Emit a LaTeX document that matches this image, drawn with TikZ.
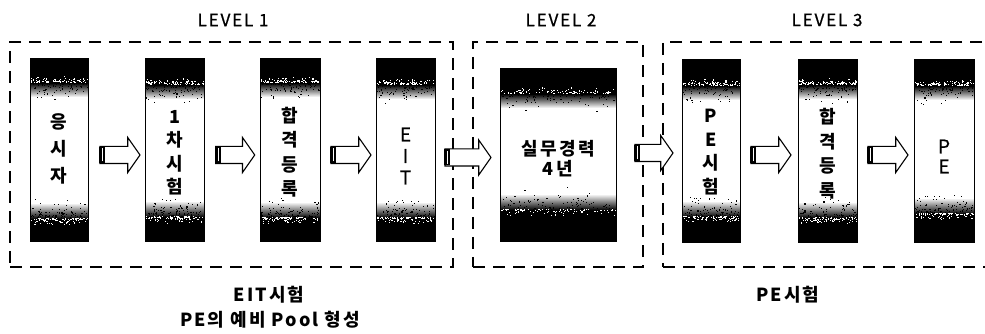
\documentclass[tikz,border=0pt]{standalone}
\usepackage{fontspec}
\setmainfont{Noto Sans CJK KR}
\newfontfamily\lvlfont{Noto Sans CJK KR}[LetterSpace=11,FakeBold=0.8]
\newfontfamily\ltrfont{Noto Sans CJK KR}[FakeBold=0.8]
\newfontfamily\spfont{Noto Sans CJK KR}[LetterSpace=14]
\newfontfamily\bfont{Noto Sans CJK KR}[LetterSpace=11]
\usetikzlibrary{shapes.arrows,calc}
\newcommand\barfont[1]{\fontsize{18}{#1}\selectfont\bfseries}
\newcommand\shadedbar[9]{%
 \pgfmathsetmacro\bxl{#2-#4/2}%
 \pgfmathsetmacro\bxr{#2+#4/2}%
 \pgfmathsetmacro\byt{#3+#5/2}%
 \pgfmathsetmacro\byb{#3-#5/2}%
 \fill[black] (\bxl,\byt) rectangle (\bxr,\byt-#6);
 \shade[top color=black,bottom color=white] (\bxl,\byt-#6) rectangle (\bxr,\byt-#6-14);
 \fill[black] (\bxl,\byb) rectangle (\bxr,\byb+#7);
 \shade[top color=white,bottom color=black] (\bxl,\byb+#7) rectangle (\bxr,\byb+#7+16);
 \foreach \k in {1,...,90}{%
   \pgfmathsetmacro\dxa{\bxl+rnd*(#4-1.2)}%
   \pgfmathsetmacro\dya{\byt-#6-20*rnd*rnd}%
   \fill[black] (\dxa,\dya) rectangle ++(1.1,1.1);
   \pgfmathsetmacro\dxb{\bxl+rnd*(#4-1.2)}%
   \pgfmathsetmacro\dyb{\byt-#6+6*rnd*rnd}%
   \fill[white] (\dxb,\dyb) rectangle ++(1.1,1.1);
   \pgfmathsetmacro\dxc{\bxl+rnd*(#4-1.2)}%
   \pgfmathsetmacro\dyc{\byb+#7+22*rnd*rnd}%
   \fill[black] (\dxc,\dyc) rectangle ++(1.1,1.1);
   \pgfmathsetmacro\dxd{\bxl+rnd*(#4-1.2)}%
   \pgfmathsetmacro\dyd{\byb+#7-7*rnd*rnd}%
   \fill[white] (\dxd,\dyd) rectangle ++(1.1,1.1);
 }
 \node[bar, minimum width=#4pt, minimum height=#5pt] (#1) at (#2,#3) {};
 \node[bartext, #8] (#1t) at (#2,#3) {#9};
}
\tikzset{
 bar/.style={draw, line width=0.8pt, inner sep=0pt},
 bartext/.style={align=center, inner sep=0pt, font=\barfont{25}},
 levelbox/.style={draw, line width=2.8pt, dash pattern=on 12pt off 8pt, inner sep=0pt},
 blockarrow/.style={single arrow, draw, line width=1.1pt, fill=white, inner xsep=0pt, inner ysep=8pt, single arrow head extend=9pt, single arrow tip angle=110, minimum height=#1},
 toplabel/.style={font=\lvlfont\fontsize{17}{20}\selectfont},
 botlabel/.style={font=\bfont\fontsize{18}{22}\selectfont\bfseries, align=center}
}
\begin{document}
\begin{tikzpicture}[x=1pt,y=1pt]
\useasboundingbox (0,0) rectangle (985,334);
\clip (0,0) rectangle (985,334);
\pgfmathsetseed{7}
% level frames
\node[levelbox, minimum width=443pt, minimum height=225pt] (L1) at (231.5,179.5) {};
\node[levelbox, minimum width=170pt, minimum height=225pt] (L2) at (558,179.5) {};
\node[levelbox, minimum width=337pt, minimum height=225pt] (L3) at (831.5,179.5) {};
% labels
\node[toplabel] (lv1) at (233,314) {LEVEL 1};
\node[toplabel] (lv2) at (561,314) {LEVEL 2};
\node[toplabel] (lv3) at (827,314) {LEVEL 3};
% bars
\shadedbar{b1}{59}{184.5}{58}{183}{25}{22}{yshift=1pt, font=\barfont{27}}{응\\시\\자}
\shadedbar{b2}{174.5}{184.5}{59}{183}{27}{24}{yshift=-3pt, font=\barfont{23.5}}{1\\차\\시\\험}
\shadedbar{b3}{290}{184.5}{60}{183}{25}{23}{yshift=-2.5pt, font=\barfont{24.5}}{합\\격\\등\\록}
\shadedbar{b4}{405.5}{184.5}{59}{183}{27}{23}{yshift=-6.5pt, font=\ltrfont\fontsize{19}{21.5}\selectfont}{E\\I\\T}
\shadedbar{b5}{558}{179.5}{116}{173}{26}{31}{yshift=-4pt, font=\spfont\fontsize{18}{20.5}\selectfont\bfseries}{실무경력\\4년}
\shadedbar{b6}{711}{183.5}{58}{183}{27}{25}{yshift=-1.5pt, font=\barfont{23.7}}{P\\E\\시\\험}
\shadedbar{b7}{827.5}{183.5}{59}{183}{26}{24}{yshift=-3pt, font=\barfont{24.5}}{합\\격\\등\\록}
\shadedbar{b8}{944}{183.5}{60}{183}{27}{28}{yshift=-6pt, font=\ltrfont\fontsize{19}{20}\selectfont}{P\\E}
% arrows
\node[blockarrow=40pt] (a1) at ($(b1.east)!0.5!(b2.west)+(0.5,-5.5)$) {};
\node[blockarrow=39pt] (a2) at ($(b2.east)!0.5!(b3.west)+(0.25,-5.5)$) {};
\node[blockarrow=40pt] (a3) at ($(b3.east)!0.5!(b4.west)+(0,-5.5)$) {};
\node[blockarrow=46pt] (a4) at ($(b4.east)!0.5!(b5.west)+(-2.5,-5.5)$) {};
\node[blockarrow=38pt] (a5) at ($(b5.east)!0.5!(b6.west)+(2,-0.5)$) {};
\node[blockarrow=40pt] (a6) at ($(b6.east)!0.5!(b7.west)+(-1,-4.5)$) {};
\node[blockarrow=40pt] (a7) at ($(b7.east)!0.5!(b8.west)+(-0.5,-4.5)$) {};
\foreach \a in {a1,a2,a3,a4,a5,a6,a7}{
  \fill[black] ($(\a.tail)+(0,-8)$) rectangle ($(\a.tail)+(6,8)$);
  \draw[white, line width=0.9pt] ($(\a.tail)+(3,-6.5)$) -- ($(\a.tail)+(3,6.5)$);
}
% bottom labels
\node[botlabel] (c1) at (269,39) {EIT시험};
\node[botlabel] (c2) at (270,14) {PE의 예비 Pool 형성};
\node[botlabel] (c3) at (788,39) {PE시험};
\end{tikzpicture}
\end{document}
